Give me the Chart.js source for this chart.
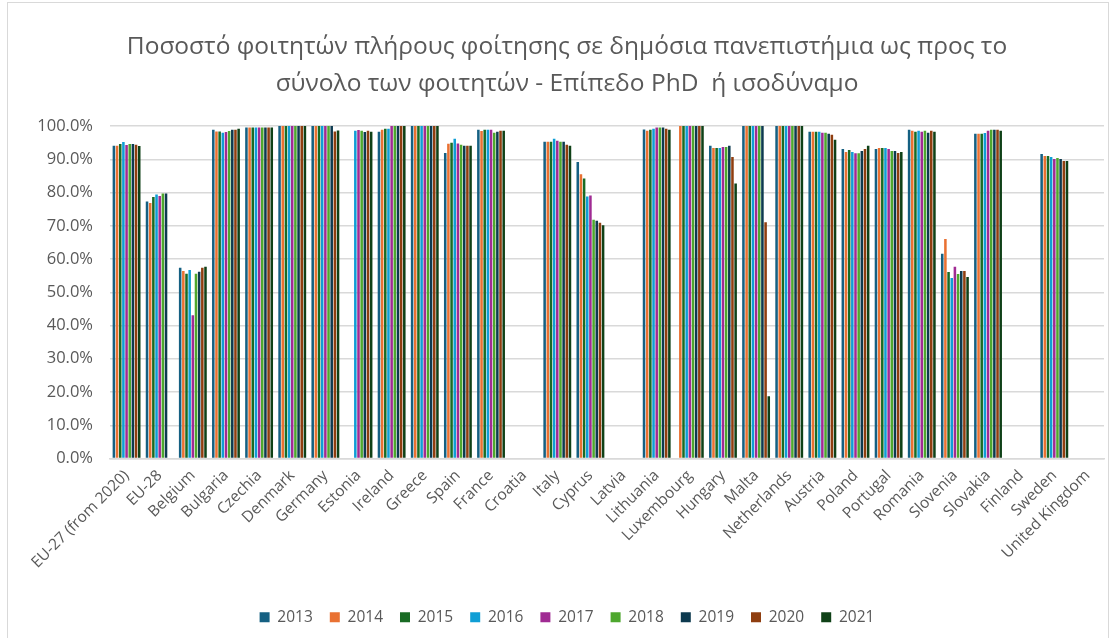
<!DOCTYPE html>
<html>
<head>
<meta charset="utf-8">
<script src="https://cdn.jsdelivr.net/npm/chart.js@4/dist/chart.umd.min.js"></script>
<style>
  html, body { margin: 0; padding: 0; background: #fff; }
  #frame { position: absolute; left: 7px; top: 2px; width: 1100px; height: 645px; border: 1px solid #d9d9d9; }
  #wrap { position: absolute; left: 0; top: 0; width: 1113px; height: 638px; }
</style>
</head>
<body>
<div id="frame"></div>
<div id="wrap"><canvas id="chart"></canvas></div>
<script>
const countries = ['EU-27 (from 2020)', 'EU-28', 'Belgium', 'Bulgaria', 'Czechia', 'Denmark', 'Germany',
  'Estonia', 'Ireland', 'Greece', 'Spain', 'France', 'Croatia', 'Italy', 'Cyprus', 'Latvia', 'Lithuania',
  'Luxembourg', 'Hungary', 'Malta', 'Netherlands', 'Austria', 'Poland', 'Portugal', 'Romania', 'Slovenia',
  'Slovakia', 'Finland', 'Sweden', 'United Kingdom'];

const years = ['2013', '2014', '2015', '2016', '2017', '2018', '2019', '2020', '2021'];

// one array per year, same order as countries (null = no data)
const y2013 = [94.1, 77.3, 57.4, 98.9, 99.6, 100, 100, null, 98.3, 100, 91.9, 98.9, null, 95.3, 89.2, null, 99.0, null, 94.1, 100, 100, 98.3, 93.1, 93.1, 98.9, 61.6, 97.7, null, 91.6, null];
const y2014 = [94.1, 76.9, 56.4, 98.4, 99.6, 100, 100, null, 98.9, 100, 94.7, 98.5, null, 95.3, 85.5, null, 98.6, 100, 93.4, 100, 100, 98.3, 92.2, 93.4, 98.6, 66.0, 97.7, null, 91.0, null];
const y2015 = [94.6, 78.7, 55.6, 98.4, 99.6, 100, 100, null, 99.2, 100, 95.0, 98.9, null, 95.3, 84.2, null, 98.9, 100, 93.4, 100, 100, 98.3, 92.8, 93.4, 98.3, 56.1, 97.7, null, 91.0, null];
const y2016 = [95.2, 79.4, 56.7, 98.0, 99.6, 100, 100, 98.6, 99.2, 100, 96.2, 98.9, null, 96.2, 78.8, null, 99.2, 100, 93.4, 100, 100, 98.3, 92.2, 93.4, 98.6, 54.3, 97.9, null, 90.7, null];
const y2017 = [94.3, 79.0, 43.1, 98.2, 99.6, 100, 100, 98.8, 100, 100, 94.8, 98.9, null, 95.6, 79.1, null, 99.6, 100, 93.7, 100, 100, 98.0, 91.8, 93.1, 98.3, 57.7, 98.6, null, 90.1, null];
const y2018 = [94.6, 79.7, 55.6, 98.5, 99.6, 100, 100, 98.6, 100, 100, 94.4, 98.0, null, 95.3, 71.8, null, 99.6, 100, 93.7, 100, 100, 98.0, 91.8, 92.5, 98.6, 55.5, 98.9, null, 90.4, null];
const y2019 = [94.6, 79.7, 56.2, 98.9, 99.6, 100, 100, 98.2, 100, 100, 94.1, 98.3, null, 95.3, 71.5, null, 99.6, 100, 94.1, 100, 100, 97.7, 92.5, 92.5, 98.0, 56.4, 98.9, null, 90.1, null];
const y2020 = [94.4, null, 57.4, 98.9, 99.6, 100, 98.4, 98.6, 100, 100, 94.1, 98.6, null, 94.4, 70.9, null, 99.2, 100, 90.7, 71.1, 100, 97.4, 93.1, 91.9, 98.6, 56.4, 98.9, null, 89.5, null];
const y2021 = [94.0, null, 57.7, 99.2, 99.6, 100, 98.7, 98.3, 100, 100, 94.1, 98.6, null, 94.1, 70.2, null, 98.9, 100, 82.7, 18.7, 100, 95.9, 94.1, 92.2, 98.3, 54.6, 98.6, null, 89.5, null];

const colors = ['#156082', '#E97132', '#196B24', '#0F9ED5', '#A02B93', '#4EA72E', '#0D3A4F', '#8F3E10', '#0F4117'];

const series = [y2013, y2014, y2015, y2016, y2017, y2018, y2019, y2020, y2021];

const font = "'Open Sans', 'Liberation Sans', sans-serif";
const textColor = '#595959';

new Chart(document.getElementById('chart'), {
  type: 'bar',
  data: {
    labels: countries,
    datasets: series.map((d, i) => ({
      label: years[i],
      data: d,
      backgroundColor: colors[i],
      borderWidth: 0,
      categoryPercentage: 0.86,
      barPercentage: 0.8
    }))
  },
  options: {
    responsive: true,
    maintainAspectRatio: false,
    animation: false,
    layout: { padding: { left: 30, right: 9, top: 20, bottom: 3 } },
    plugins: {
      title: {
        display: true,
        text: ['Ποσοστό φοιτητών πλήρους φοίτησης σε δημόσια πανεπιστήμια ως προς το',
               'σύνολο των φοιτητών - Επίπεδο PhD  ή ισοδύναμο'],
        color: textColor,
        font: { family: font, size: 24.5, weight: 'normal', lineHeight: 1.5 },
        padding: { top: 8.6, bottom: 24 }
      },
      legend: {
        position: 'bottom',
        labels: {
          color: textColor,
          font: { family: font, size: 15.5 },
          boxWidth: 10,
          boxHeight: 10,
          padding: 17
        }
      },
      tooltip: { enabled: false }
    },
    scales: {
      x: {
        grid: { display: false },
        border: { color: '#d9d9d9', width: 1.5 },
        afterFit: (s) => { s.height = 134; },
        ticks: {
          color: textColor,
          font: { family: font, size: 15.5 },
          minRotation: 45,
          maxRotation: 45,
          padding: 0,
          autoSkip: false
        }
      },
      y: {
        min: 0,
        max: 100,
        border: { display: false },
        grid: { color: '#d9d9d9', lineWidth: 1.5, drawTicks: false },
        afterFit: (s) => { s.width = 80; },
        ticks: {
          stepSize: 10,
          color: textColor,
          font: { family: font, size: 16.5 },
          padding: 17,
          callback: (v) => v.toFixed(1) + '%'
        }
      }
    }
  }
});
</script>
</body>
</html>
